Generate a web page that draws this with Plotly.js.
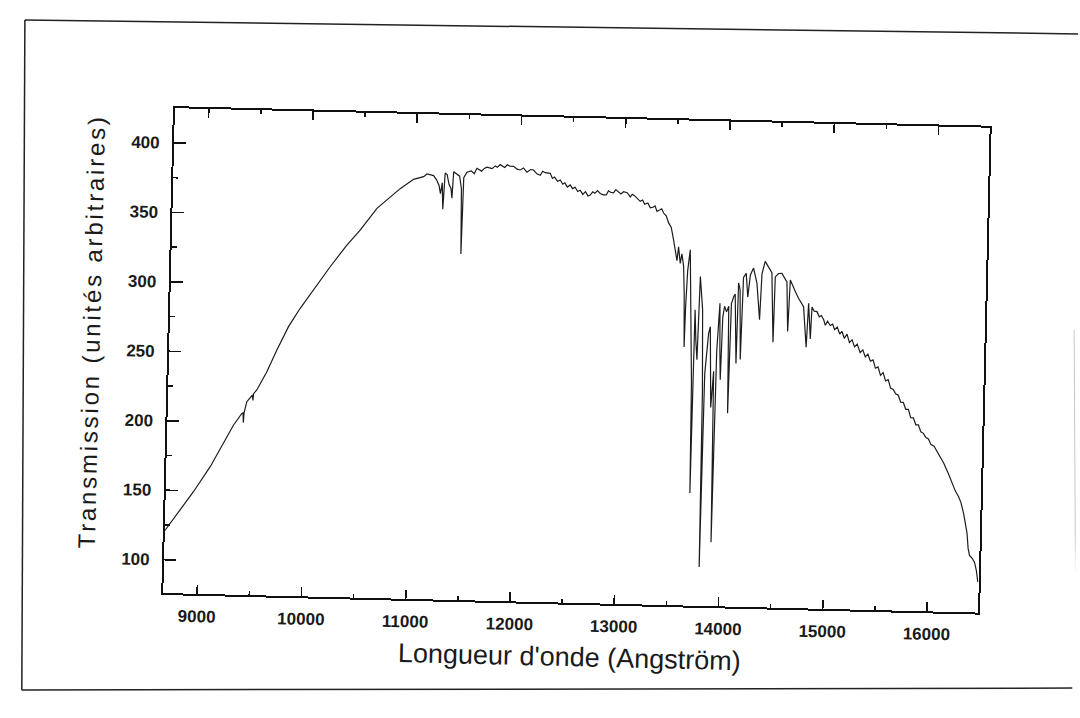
<!DOCTYPE html>
<html>
<head>
<meta charset="utf-8">
<script src="https://cdn.plot.ly/plotly-3.0.1.min.js"></script>
<style>
  html, body { margin: 0; padding: 0; background: #ffffff; overflow: hidden; }
  #chart { width: 1080px; height: 718px; transform: rotate(1.375deg); transform-origin: 540px 359px; }
  #chart .annotation-text { letter-spacing: 2.8px; }
</style>
</head>
<body>
<div id="chart"></div>
<script>
// Wavelength (Angström)
const wavelength = [
  8676, 8818, 8941, 9096, 9218, 9310, 9387, 9398, 9403, 9408, 9432, 9485, 9490, 9495, 9525,
  9617, 9708, 9814, 9922, 10045, 10200, 10355, 10479, 10635, 10791, 10853, 10979, 11075, 11106,
  11170, 11200, 11225, 11240, 11255, 11266, 11275, 11281, 11300, 11320, 11340, 11351, 11362,
  11380, 11400, 11420, 11440, 11450, 11460, 11489, 11530, 11560, 11584, 11630, 11655, 11680,
  11730, 11760, 11780, 11806, 11850, 11875, 11900, 11935, 11970, 12000, 12030, 12064, 12100,
  12127, 12160, 12193, 12215, 12240, 12288, 12310, 12330, 12360, 12386, 12410, 12430, 12455,
  12482, 12505, 12530, 12555, 12579, 12605, 12630, 12655, 12676, 12700, 12720, 12745, 12772,
  12800, 12830, 12850, 12870, 12899, 12920, 12940, 12970, 12995, 13030, 13061, 13080, 13100,
  13130, 13157, 13180, 13200, 13230, 13255, 13280, 13300, 13320, 13340, 13365, 13384, 13410,
  13434, 13460, 13485, 13510, 13523, 13535, 13555, 13569, 13588, 13600, 13611,
  13616, 13628, 13648, 13690, 13700, 13708, 13722, 13737, 13751, 13770, 13780, 13797, 13806,
  13815, 13843, 13858, 13880, 13900, 13914, 13925, 13945, 13955, 13965, 13975, 13990, 14010,
  14030, 14043, 14055, 14075, 14089, 14112, 14119, 14135, 14152, 14165, 14190, 14210, 14230,
  14259, 14295, 14328, 14341, 14369, 14403, 14436, 14462, 14469, 14500, 14532, 14582, 14600,
  14614, 14647, 14670, 14697, 14720, 14747, 14781, 14795, 14819, 14828, 14850, 14877, 14900,
  14920, 14943, 14960, 14980, 15007, 15030, 15050, 15075, 15100, 15120, 15145, 15170, 15195,
  15220, 15245, 15270, 15300, 15325, 15350, 15375, 15400, 15425, 15450, 15475, 15500, 15525,
  15550, 15575, 15600, 15625, 15650, 15675, 15700, 15725, 15750, 15775, 15800, 15825, 15850,
  15875, 15900, 15925, 15950, 15975, 16000, 16030, 16060, 16090, 16126, 16170, 16211, 16245,
  16277, 16300, 16329, 16350, 16366, 16380, 16395, 16420, 16445, 16465, 16480
];
// Transmission (arbitrary units)
const transmission = [
  121, 136, 149.4, 167.7, 184.7, 198.1, 206.6, 207, 200, 207, 215.1, 220, 216, 221, 223.7,
  237, 252.8, 269.8, 283.2, 296.6, 313.6, 329.5, 340.5, 356.4, 367, 371, 377.9, 380, 382,
  381, 378, 374, 368, 376, 357, 378, 383, 382, 375, 372, 365, 384,
  383, 382, 381, 372, 325, 380, 384, 385, 383, 387, 385, 387, 388,
  387, 389, 388, 390, 388, 390, 389, 389, 387, 386.5, 388, 385, 387,
  386.7, 384, 383, 386, 385, 384.6, 381, 382, 379, 380, 377, 378, 375,
  376.6, 374, 375, 372, 373, 370, 372, 369, 369.7, 372, 371, 373, 371,
  370, 370, 373, 372, 371.7, 374, 373, 371, 372.6, 372, 369, 371, 370,
  368, 366, 367, 364, 365, 361.5, 362, 363, 359, 360, 361, 358, 356,
  351, 348, 339, 330, 324, 334, 322, 329, 320, 300, 262,
  290, 317, 332, 236, 157, 289, 267, 253, 313, 300, 289, 230, 104,
  243, 272, 277, 219, 245, 122, 260, 294, 260, 239, 284, 292, 288,
  292, 215, 294, 299, 301, 251, 309, 304, 254, 313, 316, 299, 315,
  320, 309, 283, 316, 325, 321, 317, 267, 314, 316.5, 316.6, 310.6, 275,
  312, 306, 303, 299, 296, 293, 264, 295.5, 270, 293, 290, 289.7, 286,
  287, 284, 280, 283, 280, 281, 277, 279, 274, 276, 271, 274, 268,
  270, 265, 267, 261, 263, 258, 260, 255, 256, 250, 251, 245, 247,
  241, 242, 236, 235, 232, 231, 226, 226, 221, 221, 215, 215, 210,
  210, 205, 204, 201, 200, 196, 195, 191, 188, 183, 176, 168.5, 163,
  159, 155, 147, 140, 133, 122, 117, 115, 112, 106, 98
];
const xTicks = [9000, 10000, 11000, 12000, 13000, 14000, 15000, 16000];
const yTicks = [100, 150, 200, 250, 300, 350, 400];
const xTitle = "Longueur d'onde (Angström)";
const yTitle = 'Transmission (unités arbitraires)';

const W = 1080, H = 718, L = 169, R = 96, T = 117, B = 116;
const pw = W - L - R, ph = H - T - B;
function px(x) { return (x - L) / pw; }
function py(y) { return (H - B - y) / ph; }

const trace = {
  x: wavelength,
  y: transmission,
  type: 'scatter',
  mode: 'lines',
  line: { color: '#1c1c1c', width: 1.2 },
  hoverinfo: 'x+y'
};

const tickFont = { family: 'Liberation Sans, Arial, sans-serif', size: 17, color: '#1a1a1a', weight: 'bold' };

const layout = {
  width: W, height: H,
  margin: { l: L, r: R, t: T, b: B, pad: 0 },
  paper_bgcolor: '#ffffff',
  plot_bgcolor: '#ffffff',
  showlegend: false,
  xaxis: {
    range: [8675, 16490],
    tickmode: 'array', tickvals: xTicks, ticktext: xTicks.map(String),
    ticks: 'inside', ticklen: 9, tickwidth: 1.6, tickcolor: '#111',
    minor: { dtick: 500, tick0: 0, ticks: 'inside', ticklen: 4, tickwidth: 1.6, tickcolor: '#111', showgrid: false },
    showline: true, linewidth: 2, linecolor: '#111', mirror: 'ticks',
    showgrid: false, zeroline: false,
    tickfont: tickFont,
    ticklabelstandoff: 6,
    title: { text: xTitle, font: { family: 'Liberation Sans, Arial, sans-serif', size: 27, color: '#1a1a1a' }, standoff: 13 }
  },
  yaxis: {
    range: [76, 425],
    tickmode: 'array', tickvals: yTicks, ticktext: yTicks.map(String),
    ticks: 'inside', ticklen: 12, tickwidth: 1.6, tickcolor: '#111',
    minor: { dtick: 25, tick0: 0, ticks: 'inside', ticklen: 5, tickwidth: 1.6, tickcolor: '#111', showgrid: false },
    showline: true, linewidth: 2, linecolor: '#111', mirror: true,
    showgrid: false, zeroline: false,
    tickfont: tickFont,
    ticklabelstandoff: 9
  },
  annotations: [
    {
      text: yTitle, textangle: -90, showarrow: false,
      xref: 'paper', yref: 'paper', x: px(91.3), y: py(341.8),
      xanchor: 'center', yanchor: 'middle',
      font: { family: 'Liberation Sans, Arial, sans-serif', size: 24, color: '#1a1a1a' }
    }
  ],
  shapes: [
    { type: 'line', xref: 'paper', yref: 'paper', x0: px(16.9), y0: py(32.4), x1: px(1070.2), y1: py(21.1), line: { color: '#222', width: 1.5 } },
    { type: 'line', xref: 'paper', yref: 'paper', x0: px(16.9), y0: py(32.4), x1: px(29.9), y1: py(702.4), line: { color: '#222', width: 1.5 } },
    { type: 'line', xref: 'paper', yref: 'paper', x0: px(29.9), y0: py(702.4), x1: px(1087.9), y1: py(675), line: { color: '#222', width: 1.5 } },
    { type: 'line', xref: 'paper', yref: 'paper', x0: px(1073.3), y0: py(317.2), x1: px(1084.2), y1: py(687.1), line: { color: '#c8c8c8', width: 1 } }
  ]
};

Plotly.newPlot('chart', [trace], layout, { displayModeBar: false, staticPlot: true });
</script>
</body>
</html>
